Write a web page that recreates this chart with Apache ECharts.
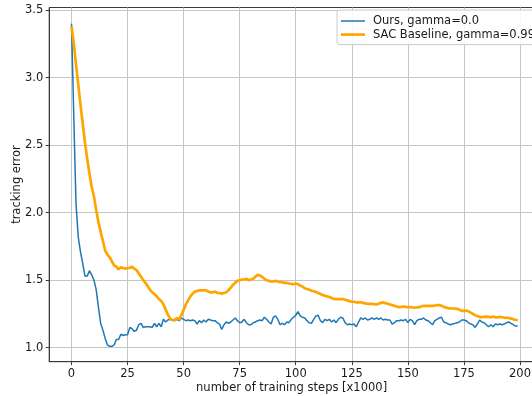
<!DOCTYPE html>
<html>
<head>
<meta charset="utf-8">
<script src="https://cdn.jsdelivr.net/npm/echarts@6/dist/echarts.min.js"></script>
<style>
  html, body { margin: 0; padding: 0; background: #fff; }
  #chart { width: 532px; height: 396px; }
</style>
</head>
<body>
<div id="chart"></div>
<script>
// Training steps (x1000)
const steps = Array.from({ length: 200 }, (_, i) => i);

// Tracking error per step, our method (gamma = 0.0)
const oursGamma0 = [
  3.40, 2.72, 2.07, 1.82, 1.71, 1.625, 1.53, 1.53, 1.57, 1.54,
  1.50, 1.43, 1.30, 1.18, 1.13, 1.07, 1.02, 1.01, 1.01, 1.02,
  1.06, 1.06, 1.10, 1.09, 1.095, 1.095, 1.15, 1.14, 1.12, 1.13,
  1.17, 1.18, 1.15, 1.155, 1.155, 1.155, 1.15, 1.18, 1.155, 1.18,
  1.155, 1.21, 1.19, 1.205, 1.21, 1.205, 1.20, 1.21, 1.20, 1.22,
  1.21, 1.20, 1.205, 1.20, 1.205, 1.20, 1.175, 1.20, 1.185, 1.205,
  1.19, 1.21, 1.205, 1.20, 1.20, 1.185, 1.175, 1.135, 1.17, 1.19,
  1.18, 1.19, 1.205, 1.22, 1.20, 1.185, 1.19, 1.21, 1.185, 1.17,
  1.17, 1.185, 1.19, 1.20, 1.205, 1.20, 1.225, 1.21, 1.19, 1.175,
  1.225, 1.235, 1.21, 1.17, 1.18, 1.17, 1.19, 1.185, 1.21, 1.225,
  1.24, 1.267, 1.235, 1.225, 1.22, 1.20, 1.185, 1.18, 1.21, 1.235,
  1.24, 1.20, 1.185, 1.21, 1.20, 1.21, 1.19, 1.205, 1.185, 1.21,
  1.225, 1.22, 1.185, 1.17, 1.175, 1.17, 1.175, 1.155, 1.19, 1.22,
  1.21, 1.22, 1.205, 1.21, 1.22, 1.21, 1.22, 1.21, 1.22, 1.205,
  1.21, 1.205, 1.205, 1.175, 1.185, 1.20, 1.20, 1.205, 1.20, 1.21,
  1.185, 1.21, 1.20, 1.17, 1.20, 1.21, 1.21, 1.22, 1.205, 1.20,
  1.185, 1.17, 1.20, 1.21, 1.22, 1.225, 1.19, 1.185, 1.175, 1.17,
  1.175, 1.18, 1.185, 1.19, 1.205, 1.205, 1.20, 1.185, 1.175, 1.17,
  1.15, 1.175, 1.205, 1.19, 1.185, 1.17, 1.155, 1.17, 1.155, 1.175,
  1.17, 1.175, 1.17, 1.175, 1.185, 1.19, 1.18, 1.17, 1.16, 1.16
];

// Tracking error per step, SAC baseline (gamma = 0.99)
const sacGamma099 = [
  3.38, 3.26, 3.10, 2.95, 2.80, 2.66, 2.52, 2.40, 2.29, 2.19,
  2.12, 2.02, 1.93, 1.86, 1.79, 1.72, 1.69, 1.67, 1.64, 1.61,
  1.60, 1.58, 1.595, 1.59, 1.585, 1.59, 1.59, 1.60, 1.585, 1.575,
  1.55, 1.525, 1.50, 1.48, 1.455, 1.43, 1.41, 1.395, 1.38, 1.36,
  1.345, 1.32, 1.28, 1.245, 1.215, 1.205, 1.205, 1.22, 1.21, 1.24,
  1.28, 1.32, 1.35, 1.38, 1.40, 1.415, 1.42, 1.425, 1.425, 1.425,
  1.425, 1.415, 1.41, 1.41, 1.415, 1.405, 1.405, 1.40, 1.405, 1.41,
  1.425, 1.445, 1.465, 1.48, 1.495, 1.50, 1.505, 1.505, 1.51, 1.50,
  1.505, 1.51, 1.525, 1.54, 1.535, 1.525, 1.51, 1.50, 1.495, 1.49,
  1.49, 1.495, 1.49, 1.485, 1.485, 1.48, 1.48, 1.475, 1.472, 1.47,
  1.475, 1.47, 1.46, 1.452, 1.44, 1.435, 1.43, 1.422, 1.418, 1.412,
  1.405, 1.398, 1.39, 1.385, 1.38, 1.375, 1.368, 1.362, 1.36, 1.36,
  1.36, 1.36, 1.355, 1.35, 1.345, 1.34, 1.34, 1.335, 1.335, 1.335,
  1.332, 1.328, 1.325, 1.325, 1.325, 1.322, 1.32, 1.325, 1.332, 1.335,
  1.33, 1.325, 1.32, 1.315, 1.31, 1.305, 1.30, 1.302, 1.305, 1.302,
  1.30, 1.30, 1.298, 1.297, 1.298, 1.30, 1.305, 1.31, 1.31, 1.31,
  1.31, 1.31, 1.312, 1.315, 1.315, 1.31, 1.302, 1.297, 1.293, 1.29,
  1.29, 1.29, 1.288, 1.28, 1.273, 1.272, 1.275, 1.27, 1.26, 1.25,
  1.24, 1.235, 1.228, 1.225, 1.228, 1.23, 1.228, 1.225, 1.23, 1.225,
  1.225, 1.228, 1.225, 1.222, 1.22, 1.22, 1.215, 1.21, 1.205, 1.205
];

// Tick positions
const xTicks = [0, 25, 50, 75, 100, 125, 150, 175, 200];
const yTicks = [1.0, 1.5, 2.0, 2.5, 3.0, 3.5];

const seriesNames = ['Ours, gamma=0.0', 'SAC Baseline, gamma=0.99'];
const seriesColors = ['#1f77b4', '#ffa500'];
const lineWidths = [1.5, 2.7];

const FONT = 'DejaVu Sans';
const TEXT = '#1a1a1a';
const GRID = '#c6c6c6';
const SPINE = '#3a3a3a';

const chart = echarts.init(document.getElementById('chart'), null, { renderer: 'canvas' });

const pair = (vals) => steps.map((s, i) => [s, vals[i]]);
// flat line swatch for the legend, as thick as the series line
const swatch = (w) => 'path://M0,0H24V' + w + 'H0Z';

chart.setOption({
  animation: false,
  backgroundColor: '#ffffff',
  textStyle: { fontFamily: FONT },
  grid: {
    left: 49.2, right: -2, top: 7.5, bottom: 34.3,
    containLabel: false, outerBoundsMode: 'none',
    show: true, borderColor: SPINE, borderWidth: 1, backgroundColor: 'transparent'
  },
  legend: {
    orient: 'vertical',
    left: 337, top: 10,
    padding: [5, 40, 4, 4],
    itemWidth: 24, itemHeight: 14, itemGap: 1.6,
    symbolKeepAspect: true,
    backgroundColor: 'rgba(255,255,255,0.85)',
    borderColor: '#cccccc', borderWidth: 1, borderRadius: 3,
    textStyle: { fontFamily: FONT, fontSize: 11.5, color: TEXT, padding: [0, 0, 0, 3] },
    data: seriesNames.map((n, i) => ({ name: n, icon: swatch(lineWidths[i]) }))
  },
  xAxis: {
    type: 'value',
    min: -9.95, max: 206.25,
    name: 'number of training steps [x1000]',
    nameLocation: 'middle', nameGap: 20, nameMoveOverlap: false,
    nameTextStyle: { fontFamily: FONT, fontSize: 11.5, color: TEXT },
    axisLine: { show: true, onZero: false, lineStyle: { color: SPINE, width: 1 } },
    axisTick: { show: true, length: 3.5, customValues: xTicks, lineStyle: { color: SPINE, width: 1 } },
    axisLabel: {
      customValues: xTicks, margin: 6,
      fontFamily: FONT, fontSize: 11.5, color: TEXT,
      formatter: (v) => String(v)
    },
    splitLine: { show: true, lineStyle: { color: GRID, width: 1 } }
  },
  yAxis: {
    type: 'value',
    min: 0.896, max: 3.52,
    name: 'tracking error',
    nameLocation: 'middle', nameGap: 26, nameMoveOverlap: false,
    nameTextStyle: { fontFamily: FONT, fontSize: 11.5, color: TEXT },
    axisLine: { show: true, onZero: false, lineStyle: { color: SPINE, width: 1 } },
    axisTick: { show: true, length: 3.5, customValues: yTicks, lineStyle: { color: SPINE, width: 1 } },
    axisLabel: {
      customValues: yTicks, margin: 6,
      fontFamily: FONT, fontSize: 11.5, color: TEXT,
      formatter: (v) => v.toFixed(1)
    },
    splitLine: { show: true, lineStyle: { color: GRID, width: 1 } }
  },
  series: [0, 1].map((k) => ({
    name: seriesNames[k],
    type: 'line',
    data: pair(k === 0 ? oursGamma0 : sacGamma099),
    symbol: 'none',
    lineStyle: { color: seriesColors[k], width: lineWidths[k] },
    itemStyle: { color: seriesColors[k] },
    z: 2 + k
  }))
});
</script>
</body>
</html>
